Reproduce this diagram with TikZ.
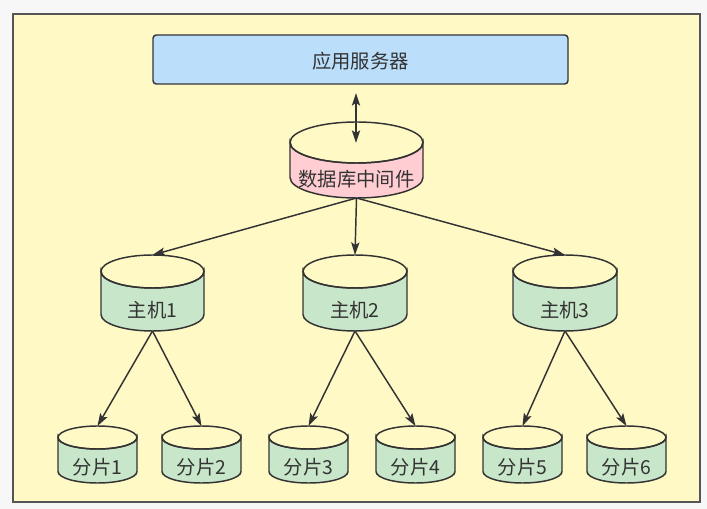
\documentclass[tikz,border=0pt]{standalone}
\usepackage{fontspec}
\setmainfont{Noto Sans CJK SC}
\usetikzlibrary{arrows.meta}

\definecolor{pagegray}{RGB}{247,247,247}
\definecolor{framefill}{RGB}{255,249,198}
\definecolor{appfill}{RGB}{187,222,251}
\definecolor{mwfill}{RGB}{255,205,210}
\definecolor{hostfill}{RGB}{200,230,201}
\definecolor{inkgray}{RGB}{51,51,51}

\tikzset{every picture/.style={line width=0.75pt}}
\tikzset{
  tip/.tip={Stealth[length=9.5pt,width=6.2pt,inset=2pt]},
  can/.style={draw=inkgray, line width=1.1pt},
  link/.style={draw=inkgray, line width=1.1pt, -tip},
  label/.style={text=inkgray, inner sep=0.75pt, font=\fontsize{14.5}{17}\selectfont},
}

\begin{document}
\begin{tikzpicture}[x=0.75pt,y=0.75pt,yscale=-1,xscale=1]
%set diagram size
\path [fill=pagegray] (0,0) rectangle (707,509);

%Shape: Rectangle [frame]
\draw [draw={rgb,255:red,85;green,85;blue,85}, fill=framefill, line width=1.5pt] (13,14) rectangle (700,502);

%Shape: Rectangle [app server]
\draw [draw=inkgray, fill=appfill, line width=1.1pt, rounded corners=2.5] (153,35) rectangle (568,84);
% Text Node
\node [label] (app) at (360.5,61) {应用服务器};

%Shape: Can [middleware]
\draw [can, fill=mwfill] (290,142.5) -- (290,177.5) arc [start angle=180, end angle=0, x radius=66.5, y radius=20.5] -- (423,142.5) arc [start angle=0, end angle=180, x radius=66.5, y radius=20.5] -- cycle ;
\draw [can] (356.5,142.5) ellipse [x radius=66.5, y radius=20.5] ;
% Text Node
\node [label] (mw) at (356.5,179) {数据库中间件};

%Shape: Can [host 1]
\draw [can, fill=hostfill] (101,271.5) -- (101,314.5) arc [start angle=180, end angle=0, x radius=51.5, y radius=16.5] -- (204,271.5) arc [start angle=0, end angle=180, x radius=51.5, y radius=16.5] -- cycle ;
\draw [can] (152.5,271.5) ellipse [x radius=51.5, y radius=16.5] ;
\node [label] (h1) at (152.5,310) {主机1};
%Shape: Can [host 2]
\draw [can, fill=hostfill] (303,271.5) -- (303,314.5) arc [start angle=180, end angle=0, x radius=52, y radius=16.5] -- (407,271.5) arc [start angle=0, end angle=180, x radius=52, y radius=16.5] -- cycle ;
\draw [can] (355,271.5) ellipse [x radius=52, y radius=16.5] ;
\node [label] (h2) at (355,310) {主机2};
%Shape: Can [host 3]
\draw [can, fill=hostfill] (513,271.5) -- (513,314.5) arc [start angle=180, end angle=0, x radius=52, y radius=16.5] -- (617,271.5) arc [start angle=0, end angle=180, x radius=52, y radius=16.5] -- cycle ;
\draw [can] (565,271.5) ellipse [x radius=52, y radius=16.5] ;
\node [label] (h3) at (565,310) {主机3};

%Shape: Can [shards]
\draw [can, fill=hostfill] (58,437.5) -- (58,471.5) arc [start angle=180, end angle=0, x radius=39.5, y radius=11.5] -- (137,437.5) arc [start angle=0, end angle=180, x radius=39.5, y radius=11.5] -- cycle ;
\draw [can] (97.5,437.5) ellipse [x radius=39.5, y radius=11.5] ;
\node [label] (s1) at (97.5,467) {分片1};
\draw [can, fill=hostfill] (162,437.5) -- (162,471.5) arc [start angle=180, end angle=0, x radius=39.5, y radius=11.5] -- (241,437.5) arc [start angle=0, end angle=180, x radius=39.5, y radius=11.5] -- cycle ;
\draw [can] (201.5,437.5) ellipse [x radius=39.5, y radius=11.5] ;
\node [label] (s2) at (201.5,467) {分片2};
\draw [can, fill=hostfill] (269,437.5) -- (269,471.5) arc [start angle=180, end angle=0, x radius=39.5, y radius=11.5] -- (348,437.5) arc [start angle=0, end angle=180, x radius=39.5, y radius=11.5] -- cycle ;
\draw [can] (308.5,437.5) ellipse [x radius=39.5, y radius=11.5] ;
\node [label] (s3) at (308.5,467) {分片3};
\draw [can, fill=hostfill] (376,437.5) -- (376,471.5) arc [start angle=180, end angle=0, x radius=39.5, y radius=11.5] -- (455,437.5) arc [start angle=0, end angle=180, x radius=39.5, y radius=11.5] -- cycle ;
\draw [can] (415.5,437.5) ellipse [x radius=39.5, y radius=11.5] ;
\node [label] (s4) at (415.5,467) {分片4};
\draw [can, fill=hostfill] (483,437.5) -- (483,471.5) arc [start angle=180, end angle=0, x radius=39.5, y radius=11.5] -- (562,437.5) arc [start angle=0, end angle=180, x radius=39.5, y radius=11.5] -- cycle ;
\draw [can] (522.5,437.5) ellipse [x radius=39.5, y radius=11.5] ;
\node [label] (s5) at (522.5,467) {分片5};
\draw [can, fill=hostfill] (587,437.5) -- (587,471.5) arc [start angle=180, end angle=0, x radius=39.5, y radius=11.5] -- (666,437.5) arc [start angle=0, end angle=180, x radius=39.5, y radius=11.5] -- cycle ;
\draw [can] (626.5,437.5) ellipse [x radius=39.5, y radius=11.5] ;
\node [label] (s6) at (626.5,467) {分片6};

%connector ends
\coordinate (appB) at (356,93);
\coordinate (mwC) at (356,143);
\coordinate (mwB) at (356.5,198);
\coordinate (h1T) at (152.5,255);
\coordinate (h2T) at (355,255);
\coordinate (h3T) at (565,255);
\coordinate (h1B) at (152.5,331);
\coordinate (h2B) at (355,331);
\coordinate (h3B) at (565,331);
\coordinate (s1T) at (97.5,426);
\coordinate (s2T) at (201.5,426);
\coordinate (s3T) at (308.5,426);
\coordinate (s4T) at (415.5,426);
\coordinate (s5T) at (522.5,426);
\coordinate (s6T) at (626.5,426);

%Straight Lines
\draw [link, tip-tip] (appB) -- (mwC) ;
\draw [link] (mwB) -- (h1T) ;
\draw [link] (mwB) -- (h2T) ;
\draw [link] (mwB) -- (h3T) ;
\draw [link] (h1B) -- (s1T) ;
\draw [link] (h1B) -- (s2T) ;
\draw [link] (h2B) -- (s3T) ;
\draw [link] (h2B) -- (s4T) ;
\draw [link] (h3B) -- (s5T) ;
\draw [link] (h3B) -- (s6T) ;

\end{tikzpicture}
\end{document}
